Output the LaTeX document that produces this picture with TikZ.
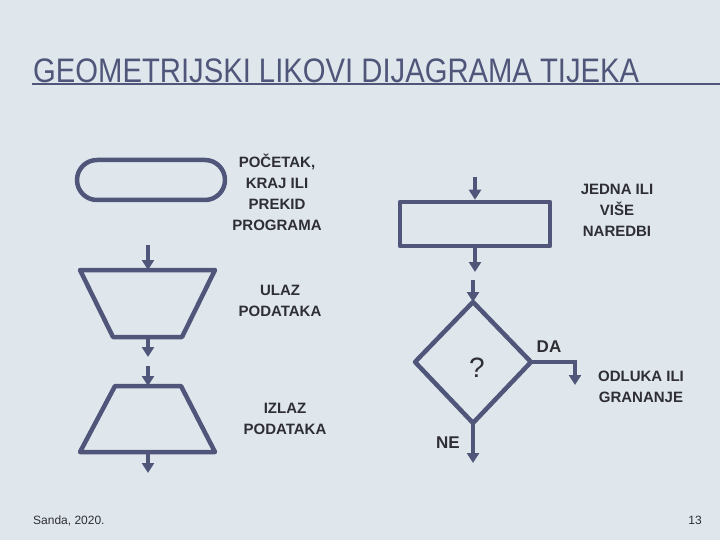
\documentclass[tikz,border=0pt]{standalone}
\usepackage{fontspec}
\setmainfont{Liberation Sans}
\usetikzlibrary{arrows.meta}
\definecolor{bg}{HTML}{DFE7ED}
\definecolor{sh}{HTML}{50567A}
\definecolor{tx}{HTML}{2E2E34}
\tikzset{
  shp/.style={draw=sh,line width=4.5pt,line join=round},
  arr/.style={draw=sh,line width=3.5pt,-{Triangle[width=12pt,length=10pt]}},
  lbl/.style={text=tx,font=\bfseries\fontsize{15}{21}\selectfont,align=center,inner sep=0pt},
}
\begin{document}
\begin{tikzpicture}[x=1pt,y=-1pt]
\fill[bg] (0,0) rectangle (720,540);
\useasboundingbox (0,0) rectangle (720,540);
% title
\node[text=sh,anchor=south west,inner sep=0pt,xscale=0.86,font=\fontsize{34}{34}\selectfont] (title) at (33,83) {GEOMETRIJSKI LIKOVI DIJAGRAMA TIJEKA};
\coordinate (tl) at (32,84); \coordinate (tr) at (720,84);
\draw[sh,line width=1.5pt] (tl) -- (tr);
% terminal
\node[shp,rounded corners=20pt,minimum width=148pt,minimum height=40pt] (term) at (151,180) {};
\node[lbl] (tt) at (277,192) {POČETAK,\\KRAJ ILI\\PREKID\\PROGRAMA};
% process
\coordinate (pin) at (475,177);
\node[shp,minimum width=150pt,minimum height=44pt] (proc) at (475,224) {};
\coordinate (pout) at (475,272);
\draw[arr] (pin) -- (proc.north);
\draw[arr] (proc.south) -- (pout);
\node[lbl] (pt) at (617,210) {JEDNA ILI\\VIŠE\\NAREDBI};
% input
\coordinate (iin) at (148,245);
\coordinate (i1) at (80,270); \coordinate (i2) at (215,270); \coordinate (i3) at (182,337); \coordinate (i4) at (113,337);
\draw[shp] (i1) -- (i2) -- (i3) -- (i4) -- cycle;
\coordinate (it) at (148,270); \coordinate (ib) at (148,337); \coordinate (iout) at (148,357);
\draw[arr] (iin) -- (it);
\draw[arr] (ib) -- (iout);
\node[lbl] (itx) at (280,301) {ULAZ\\PODATAKA};
% output
\coordinate (oin) at (148,366);
\coordinate (o1) at (115,386); \coordinate (o2) at (181,386); \coordinate (o3) at (215,452); \coordinate (o4) at (80,452);
\draw[shp] (o1) -- (o2) -- (o3) -- (o4) -- cycle;
\coordinate (ot) at (148,386); \coordinate (ob) at (148,452); \coordinate (oout) at (148,473);
\draw[arr] (oin) -- (ot);
\draw[arr] (ob) -- (oout);
\node[lbl] (otx) at (285,419) {IZLAZ\\PODATAKA};
% decision
\coordinate (dt) at (473,302); \coordinate (dr) at (531,362); \coordinate (db) at (473,423); \coordinate (dl) at (415,362);
\draw[shp] (dt) -- (dr) -- (db) -- (dl) -- cycle;
\node[text=tx,font=\fontsize{28}{28}\selectfont,inner sep=0pt] (q) at (477,368) {?};
\coordinate (din) at (473,280);
\draw[arr] (din) -- (dt);
\coordinate (dc) at (575,362); \coordinate (dda) at (575,385);
\draw[arr] (dr) -- (dc) -- (dda);
\coordinate (dne) at (473,463);
\draw[arr] (db) -- (dne);
\node[lbl,font=\bfseries\fontsize{17}{17}\selectfont] (da) at (549,347) {DA};
\node[lbl,font=\bfseries\fontsize{17}{17}\selectfont] (ne) at (448,443) {NE};
\node[lbl] (dtx) at (641,387) {ODLUKA ILI\\GRANANJE};
% footer
\node[text=tx,anchor=west,inner sep=0pt,font=\fontsize{12}{12}\selectfont] (f1) at (33,521) {Sanda, 2020.};
\node[text=tx,anchor=east,inner sep=0pt,font=\fontsize{12}{12}\selectfont] (f2) at (702,520) {13};
\end{tikzpicture}
\end{document}
